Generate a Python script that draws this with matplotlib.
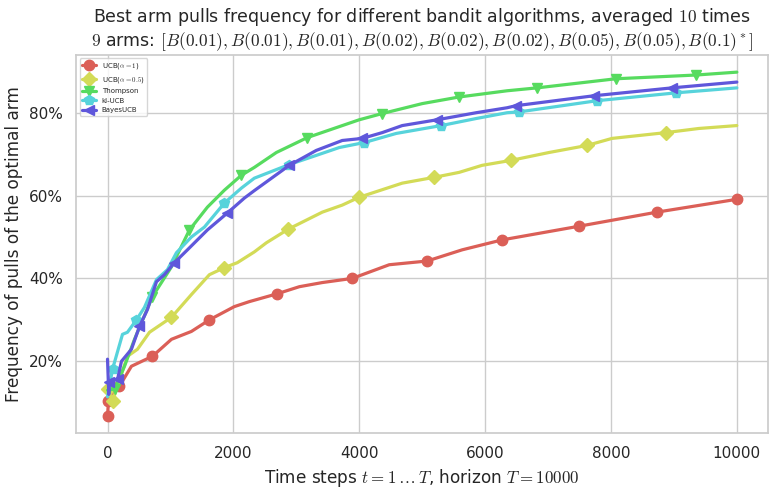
import numpy as np
import matplotlib
matplotlib.use('Agg')
import matplotlib.pyplot as plt
import seaborn as sns
from matplotlib.ticker import PercentFormatter

# values
x_ucb1 = [0, 15, 190, 380, 714, 1016, 1333, 1619, 2016, 2254, 2698, 3048, 3413, 3889, 4476, 5079, 5635, 6270, 7492, 8730, 10000]
y_ucb1 = [0.068, 0.104, 0.14, 0.188, 0.212, 0.253, 0.272, 0.30, 0.332, 0.344, 0.363, 0.38, 0.39, 0.40, 0.433, 0.442, 0.469, 0.493, 0.526, 0.56, 0.591]

x_ucb05 = [0, 80, 317, 476, 667, 1016, 1333, 1619, 1857, 2063, 2333, 2524, 2873, 3413, 3730, 4000, 4683, 5190, 5587, 5952, 6413, 7016, 7619, 8016, 8873, 9397, 10000]
y_ucb05 = [0.133, 0.104, 0.212, 0.229, 0.27, 0.306, 0.361, 0.409, 0.426, 0.438, 0.464, 0.486, 0.519, 0.56, 0.577, 0.596, 0.63, 0.644, 0.656, 0.673, 0.685, 0.704, 0.721, 0.738, 0.752, 0.762, 0.769]

x_thompson = [0, 111, 270, 429, 714, 1016, 1302, 1587, 1857, 2127, 2333, 2683, 3175, 3635, 4000, 4365, 5000, 5587, 6349, 6825, 8079, 9349, 10000]
y_thompson = [0.13, 0.133, 0.188, 0.253, 0.356, 0.428, 0.517, 0.572, 0.613, 0.649, 0.668, 0.704, 0.74, 0.764, 0.783, 0.798, 0.822, 0.838, 0.853, 0.86, 0.882, 0.891, 0.898]

x_klucb = [0, 80, 238, 317, 460, 587, 778, 952, 1095, 1333, 1540, 1857, 2127, 2333, 2889, 3317, 3683, 4079, 4587, 5302, 5857, 6349, 6540, 7778, 9032, 10000]
y_klucb = [0.114, 0.181, 0.265, 0.27, 0.30, 0.33, 0.397, 0.421, 0.462, 0.50, 0.524, 0.582, 0.618, 0.642, 0.675, 0.697, 0.716, 0.728, 0.75, 0.769, 0.786, 0.80, 0.802, 0.829, 0.848, 0.86]

x_bayes = [0, 20, 30, 160, 222, 380, 508, 635, 778, 905, 1063, 1270, 1587, 1905, 2175, 2333, 2889, 3317, 3730, 4048, 4365, 4683, 5238, 5857, 6349, 6492, 7730, 8968, 10000]
y_bayes = [0.205, 0.12, 0.15, 0.157, 0.20, 0.229, 0.284, 0.325, 0.392, 0.409, 0.438, 0.469, 0.517, 0.558, 0.594, 0.612, 0.673, 0.709, 0.733, 0.738, 0.752, 0.769, 0.783, 0.80, 0.812, 0.817, 0.841, 0.86, 0.874]

# indices of the points that carry a marker in the picture
marks_ucb1 = [0, 1, 2, 4, 7, 10, 13, 15, 17, 18, 19, 20]
marks_ucb05 = [0, 1, 5, 8, 12, 15, 17, 20, 22, 24]
marks_thompson = [1, 4, 6, 9, 12, 15, 17, 19, 20, 21]
marks_klucb = [1, 4, 11, 14, 17, 19, 22, 23, 24]
marks_bayes = [2, 3, 6, 10, 13, 16, 19, 22, 25, 26, 27]

labels = [r'UCB($\alpha=1$)', r'UCB($\alpha=0.5$)', 'Thompson', 'kl-UCB', 'BayesUCB']
series = [(x_ucb1, y_ucb1, marks_ucb1), (x_ucb05, y_ucb05, marks_ucb05),
          (x_thompson, y_thompson, marks_thompson), (x_klucb, y_klucb, marks_klucb),
          (x_bayes, y_bayes, marks_bayes)]
markers = ['o', 'D', 'v', 'p', '<']

sns.set_theme(style='whitegrid')
plt.rcParams['mathtext.fontset'] = 'cm'
colors = sns.hls_palette(len(labels) + 1)[:len(labels)]

fig = plt.figure(figsize=(7.84, 4.95), dpi=100)
ax = fig.add_axes([0.097, 0.125, 0.883, 0.764])

for i, ((xs, ys, mk), lab) in enumerate(zip(series, labels)):
    ax.plot(xs, ys, label=lab, color=colors[i], marker=markers[i],
            markevery=mk, lw=2.3, ms=7.5)

ax.yaxis.set_major_formatter(PercentFormatter(1.0, decimals=0))
ax.set_yticks([0.2, 0.4, 0.6, 0.8])
ax.tick_params(labelsize=11)
ax.set_xlabel(r'Time steps $t = 1 \dots T$, horizon $T = 10000$', fontsize=12.2)
ax.set_ylabel('Frequency of pulls of the optimal arm', fontsize=12.2)
ax.set_title('Best arm pulls frequency for different bandit algorithms, averaged $10$ times\n'
             r'$9$ arms: $[B(0.01), B(0.01), B(0.01), B(0.02), B(0.02), B(0.02), B(0.05), B(0.05), B(0.1)^*]$',
             fontsize=12.5)
ax.legend(loc='upper left', fontsize=5, frameon=True, fancybox=True)

fig.savefig('out.png', dpi=100)
